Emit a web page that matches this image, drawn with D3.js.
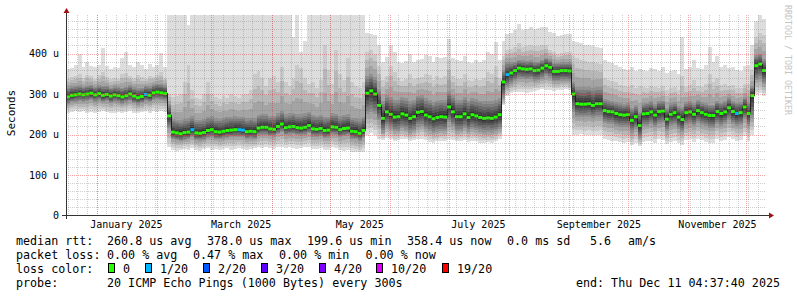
<!DOCTYPE html>
<html>
<head>
<meta charset="utf-8">
<script src="https://cdn.jsdelivr.net/npm/d3@7"></script>
<style>
  body { margin: 0; background: #fff; }
  svg { display: block; }
  text { font-family: "DejaVu Sans Mono", monospace; fill: #000; }
</style>
</head>
<body>
<svg id="chart" width="797" height="297"></svg>
<script>
// time span of the graph (360 days ending at the "end:" stamp), one sample every 2 days
const startTime = Date.UTC(2024, 11, 16, 4, 37, 40);
const endTime = Date.UTC(2025, 11, 11, 4, 37, 40);
const stepDays = 2;

// median rtt per sample, in microseconds
const med = [
  293,297,298,300,298,300,302,298,301,297, 299,295,298,296,293,296,300,295,291,294,
  299,297,303,305,303,301,246,206,204,202, 205,206,212,204,203,205,210,212,207,206,
  208,210,211,212,212,211,207,208,207,216, 218,218,214,213,220,226,217,219,220,217,
  216,218,222,214,213,215,210,211,219,218, 212,215,216,208,207,203,210,302,308,300,
  272,240,256,250,243,244,251,248,240,244, 255,257,248,244,239,242,244,243,268,256,
  244,244,251,242,249,246,242,240,241,240, 243,249,330,348,352,358,364,362,361,362,
  358,359,364,370,366,356,356,358,358,357, 300,276,275,275,276,272,276,276,259,257,
  256,252,249,248,249,235,244,222,251,252, 256,248,257,258,238,250,254,243,237,254,
  256,250,259,254,250,247,247,257,252,256, 266,257,252,254,268,252,296,370,374,358
];
// smoke envelope per sample (us): highest ping, upper light spikes, dark core top/bottom, lowest ping
const hiMax = [
  362,365,372,400,368,378,370,366,372,414, 370,362,366,364,390,405,372,368,380,372,
  362,375,368,372,402,366,500,500,500,500, 500,470,500,500,500,500,500,500,500,500,
  500,500,500,500,500,500,500,500,500,500, 500,500,500,500,500,500,500,500,442,500,
  403,430,500,500,500,500,500,500,500,500, 500,500,500,500,500,500,500,452,448,445,
  420,378,392,420,405,380,376,382,398,380, 383,386,397,395,378,391,388,392,437,390,
  383,382,395,380,376,383,378,384,405,398, 428,385,430,449,452,457,473,457,460,465,
  461,462,465,466,453,450,444,445,449,448, 432,428,425,422,420,418,416,414,383,378,
  376,372,366,362,360,366,358,362,360,356, 364,362,358,366,352,356,360,350,440,362,
  368,383,365,362,372,416,378,395,368,372, 365,368,360,358,370,372,420,480,500,486
];
const hiMid = [
  338,342,345,350,340,348,344,338,346,355, 342,336,340,338,350,352,344,340,348,342,
  338,345,342,346,355,340,300,292,296,300, 330,372,310,290,288,300,330,300,292,288,
  296,290,300,294,290,298,300,310,350,356, 340,320,340,345,330,368,330,320,340,372,
  365,340,325,330,315,335,420,360,325,410, 350,335,388,330,320,315,330,405,410,400,
  370,335,345,370,355,340,332,336,350,338, 340,342,350,348,334,345,340,345,385,345,
  338,336,350,335,332,338,334,340,355,350, 370,340,395,410,412,415,425,415,418,420,
  418,418,420,422,410,405,400,402,405,404, 395,388,385,382,380,378,376,374,340,335,
  332,330,322,320,318,322,315,320,318,314, 320,318,315,320,310,314,318,310,345,318,
  322,335,320,318,325,350,330,340,322,325, 320,322,316,315,325,326,360,440,450,445
];
const hiCore = [
  316,319,320,322,318,321,323,318,322,320, 320,316,319,318,316,318,322,317,314,316,
  320,319,324,326,325,322,275,238,236,235, 238,240,245,236,236,238,243,245,240,238,
  240,243,244,245,244,243,240,241,240,248, 250,250,247,246,252,258,250,252,254,250,
  250,252,255,248,246,248,243,244,252,251, 245,248,250,242,240,238,244,345,350,342,
  312,282,298,292,285,286,292,290,282,286, 296,298,290,286,281,284,286,285,308,298,
  286,286,292,284,290,288,284,282,283,282, 285,290,360,378,378,380,384,383,382,383,
  380,380,384,390,386,377,377,378,378,378, 330,318,317,317,318,314,317,317,288,285,
  283,280,277,276,277,265,272,256,278,279, 282,276,283,284,266,277,280,270,268,280,
  282,277,285,280,277,274,274,283,279,282, 292,283,279,281,293,280,320,396,400,386
];
const loCore = [
  276,280,281,283,281,283,285,281,284,280, 282,278,281,279,276,279,283,278,274,277,
  282,280,286,288,286,284,215,188,186,184, 187,188,194,186,185,187,192,194,189,188,
  190,192,193,194,194,193,189,190,189,197, 199,199,196,195,201,206,198,200,201,198,
  197,199,203,195,194,196,191,192,200,199, 193,196,197,189,188,184,191,250,255,250,
  235,205,220,214,208,209,215,212,205,209, 219,221,213,209,204,207,209,208,230,220,
  209,209,215,207,213,210,207,205,206,205, 208,213,290,318,326,332,338,337,336,337,
  333,334,338,344,340,331,331,333,333,332, 255,244,243,243,244,240,244,244,229,227,
  226,222,219,218,219,205,214,192,221,222, 226,218,227,228,208,220,224,213,207,224,
  226,220,229,224,220,217,217,227,222,226, 236,227,222,224,238,222,240,335,338,325
];
const loMin = [
  254,256,258,255,257,254,256,253,255,257, 255,252,254,256,253,255,257,254,252,255,
  257,254,258,256,257,255,168,163,160,162, 165,163,166,162,160,164,166,163,165,162,
  164,166,163,165,167,164,162,165,166,168, 167,169,166,165,168,170,166,168,167,165,
  166,168,170,164,165,167,162,163,168,166, 162,160,161,158,157,156,158,200,203,198,
  190,186,192,188,184,186,190,188,183,186, 188,190,186,182,180,183,185,184,188,186,
  183,184,186,182,185,184,180,179,181,180, 183,190,272,295,303,304,305,304,303,305,
  308,310,312,311,309,308,310,311,312,310, 200,199,201,198,200,199,198,200,188,186,
  185,183,182,180,181,174,180,172,182,184, 185,180,188,186,176,182,184,178,175,186,
  188,182,190,186,182,180,180,188,184,186, 195,188,184,186,196,185,200,300,302,296
];
// lost pings out of 20 per sample
const loss = [
  0,0,0,0,0,0,0,0,0,0, 0,0,0,0,0,0,0,0,0,0,
  1,0,0,0,0,0,0,0,0,0, 0,0,1,0,0,0,0,0,0,0,
  0,0,0,0,1,1,0,0,0,0, 0,0,0,0,0,0,0,0,0,0,
  0,0,0,0,0,0,0,0,0,0, 0,0,0,0,0,0,0,0,0,0,
  0,0,0,0,0,0,0,0,0,0, 0,0,0,0,0,0,0,0,0,0,
  0,0,0,0,0,0,0,0,0,0, 0,0,0,1,0,0,0,0,0,0,
  0,0,0,0,0,0,0,0,0,0, 0,0,0,0,0,0,0,0,0,0,
  0,0,0,0,0,0,0,0,0,0, 0,0,0,0,0,0,0,0,0,0,
  0,0,0,0,0,0,0,0,0,0, 0,0,1,0,0,0,0,0,0,0
];

const yTicks = [0, 100, 200, 300, 400];
const yTickLabels = ["0", "100 u", "200 u", "300 u", "400 u"];
const xTickLabels = ["January 2025", "March 2025", "May 2025", "July 2025", "September 2025", "November 2025"];
const xTickDates = [Date.UTC(2025,0,16), Date.UTC(2025,2,16), Date.UTC(2025,4,16),
                    Date.UTC(2025,6,16), Date.UTC(2025,8,16), Date.UTC(2025,10,16)];

const lossSteps = [0, 1, 2, 3, 4, 10, 19];
const lossLabels = ["0", "1/20", "2/20", "3/20", "4/20", "10/20", "19/20"];
const lossColors = ["#26ff00", "#00b8ff", "#0059ff", "#5e00ff", "#7e00ff", "#dd00ff", "#ff0000"];

const svg = d3.select("#chart");
const pL = 66, pR = 766, pT = 15, pB = 215;

const x = d3.scaleUtc().domain([new Date(startTime), new Date(endTime)]).range([pL, pR]);
const y = d3.scaleLinear().domain([0, 494]).range([pB + 0.5, pT + 0.5]);

const day = 864e5;
let rows = med.map((m, i) => ({
  t: new Date(startTime + i * stepDays * day),
  med: m, hiMax: hiMax[i], hiMid: hiMid[i], hiCore: hiCore[i],
  loCore: loCore[i], loMin: loMin[i], loss: loss[i]
}));
// closing point so the last step reaches the end of the graph
const rowsEnd = rows.concat([Object.assign({}, rows[rows.length - 1], {t: new Date(endTime)})]);

svg.append("clipPath").attr("id", "plot")
  .append("rect").attr("x", pL).attr("y", pT).attr("width", pR - pL).attr("height", pB - pT);

const plot = svg.append("g").attr("clip-path", "url(#plot)");

// smoke: 10 bands, outermost (lightest) first
const lerp = (a, b, t) => a + (b - a) * t;
function band(ii) {
  if (ii === 1) return [d => d.loMin, d => d.hiMax];
  if (ii <= 5) {
    const t = (ii - 2) / 3;
    return [d => lerp(d.loMin, d.loCore, 0.25 + 0.75 * t), d => lerp(d.hiMid, d.hiCore, t)];
  }
  const s = (ii - 5) / 6;
  return [d => lerp(d.loCore, d.med, s), d => lerp(d.hiCore, d.med, s)];
}
for (let ii = 1; ii <= 10; ii++) {
  const [lo, hi] = band(ii);
  const g = Math.floor(190 / 10 * (10 - ii)) + 50;
  const area = d3.area()
    .x(d => x(d.t))
    .y0(d => y(lo(d)))
    .y1(d => y(hi(d)))
    .curve(d3.curveStepAfter);
  plot.append("path")
    .datum(rowsEnd)
    .attr("d", area)
    .attr("fill", d3.rgb(g, g, g))
    .attr("shape-rendering", "crispEdges");
}

// median line and loss coloured boxes
plot.append("path")
  .datum(rowsEnd)
  .attr("d", d3.line().x(d => x(d.t)).y(d => y(d.med)).curve(d3.curveStepAfter))
  .attr("fill", "none")
  .attr("stroke", "#202020")
  .attr("stroke-width", 1)
  .attr("shape-rendering", "crispEdges");

function lossColor(n) {
  let c = lossColors[0];
  lossSteps.forEach((s, i) => { if (n >= s) c = lossColors[i]; });
  return c;
}
plot.selectAll("rect.med")
  .data(rows)
  .enter().append("rect")
  .attr("class", "med")
  .attr("x", d => x(d.t))
  .attr("width", (d, i) => x(rowsEnd[i + 1].t) - x(d.t))
  .attr("y", d => y(d.med) - 1.5)
  .attr("height", 3)
  .attr("fill", d => lossColor(d.loss));

// grid on top of the data
const grid = svg.append("g").attr("clip-path", "url(#plot)").attr("shape-rendering", "crispEdges");
const minorY = d3.range(20, 494, 20).filter(v => v % 100 !== 0);
grid.selectAll("line.hmin").data(minorY).enter().append("line")
  .attr("x1", pL).attr("x2", pR).attr("y1", d => Math.round(y(d)) + 0.5).attr("y2", d => Math.round(y(d)) + 0.5)
  .attr("stroke", "rgba(120,120,120,0.35)").attr("stroke-dasharray", "1,1");
const minorX = d3.range(-3, 72).map(i => new Date(Date.UTC(2025, 0, 1) + i * 5 * day))
  .filter(d => d > x.domain()[0] && d < x.domain()[1]);
grid.selectAll("line.vmin").data(minorX).enter().append("line")
  .attr("x1", d => Math.round(x(d)) + 0.5).attr("x2", d => Math.round(x(d)) + 0.5).attr("y1", pT).attr("y2", pB)
  .attr("stroke", "rgba(120,120,120,0.35)").attr("stroke-dasharray", "1,1");
grid.selectAll("line.hmaj").data([100, 200, 300, 400]).enter().append("line")
  .attr("x1", pL).attr("x2", pR).attr("y1", d => Math.round(y(d)) + 0.5).attr("y2", d => Math.round(y(d)) + 0.5)
  .attr("stroke", "rgba(230,60,60,0.45)").attr("stroke-dasharray", "1,1");
const months = d3.utcMonth.range(x.domain()[0], x.domain()[1]);
grid.selectAll("line.vmaj").data(months).enter().append("line")
  .attr("x1", d => Math.round(x(d)) + 0.5).attr("x2", d => Math.round(x(d)) + 0.5).attr("y1", pT).attr("y2", pB)
  .attr("stroke", "rgba(230,60,60,0.45)").attr("stroke-dasharray", "1,1");

// axes
const yAxis = svg.append("g").attr("transform", `translate(${pL},0)`)
  .call(d3.axisLeft(y).tickValues(yTicks).tickFormat((d, i) => yTickLabels[i]).tickSize(0).tickPadding(7));
yAxis.select(".domain").remove();
yAxis.selectAll("text").style("font-family", "DejaVu Sans Mono").style("font-size", "10px").attr("fill", "#000");

const xAxis = svg.append("g").attr("transform", `translate(0,${pB})`)
  .call(d3.axisBottom(x).tickValues(xTickDates.map(t => new Date(t))).tickFormat((d, i) => xTickLabels[i]).tickSize(0).tickPadding(6));
xAxis.select(".domain").remove();
xAxis.selectAll("text").style("font-family", "DejaVu Sans Mono").style("font-size", "10px").attr("fill", "#000");

svg.append("line").attr("x1", 62).attr("x2", 770).attr("y1", pB + 0.5).attr("y2", pB + 0.5)
  .attr("stroke", "#333").attr("shape-rendering", "crispEdges");
svg.append("line").attr("x1", pL + 0.5).attr("x2", pL + 0.5).attr("y1", 219).attr("y2", 12)
  .attr("stroke", "#333").attr("shape-rendering", "crispEdges");
svg.append("path").attr("d", "M63.5,13L69.5,13L66.5,8Z").attr("fill", "#a01010");
svg.append("path").attr("d", "M769,212.5L769,218.5L774,215.5Z").attr("fill", "#a01010");

svg.append("text")
  .attr("transform", "translate(11,113) rotate(-90)")
  .attr("text-anchor", "middle").attr("dominant-baseline", "central")
  .style("font-size", "11px").text("Seconds");

svg.append("text")
  .attr("transform", "translate(784.5,5) rotate(90)")
  .style("font-size", "8.3px").style("fill", "#c4c4c4")
  .text("RRDTOOL / TOBI OETIKER");

// legend
const lg = svg.append("g").style("font-size", "11.7px");
const legendRows = [
  [245, [[16, "median rtt:"], [107, "260.8 us avg"], [207, "378.0 us max"], [307, "199.6 us min"],
         [407, "358.4 us now"], [507, "0.0 ms sd"], [590, "5.6"], [628, "am/s"]]],
  [259, [[16, "packet loss:"], [107, "0.00 % avg"], [193, "0.47 % max"], [279, "0.00 % min"], [365.5, "0.00 % now"]]],
  [272.7, [[16, "loss color:"]]],
  [287, [[16, "probe:"], [107, "20 ICMP Echo Pings (1000 Bytes) every 300s"]]]
];
legendRows.forEach(([by, items]) => {
  items.forEach(([tx, s]) => {
    lg.append("text").attr("x", tx).attr("y", by).attr("xml:space", "preserve").text(s);
  });
});
lg.append("text").attr("x", 780).attr("y", 287).attr("text-anchor", "end").text("end: Thu Dec 11 04:37:40 2025");

const boxX = [108.5, 145.5, 203.5, 261.5, 319.5, 376.5, 442.5];
lossLabels.forEach((s, i) => {
  lg.append("rect").attr("x", boxX[i]).attr("y", 263.5).attr("width", 6).attr("height", 9)
    .attr("fill", lossColors[i]).attr("stroke", "#000").attr("stroke-width", 1);
  lg.append("text").attr("x", boxX[i] + 14.5).attr("y", 272.7).text(s);
});
</script>
</body>
</html>
